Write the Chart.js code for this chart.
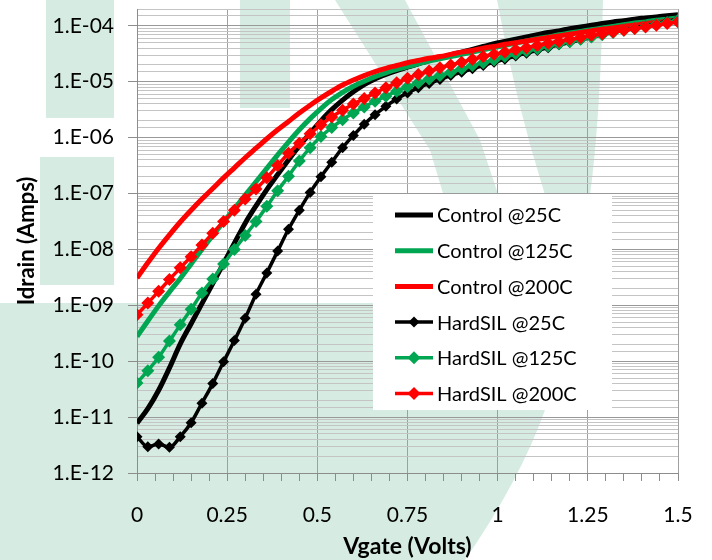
<!DOCTYPE html>
<html>
<head>
<meta charset="utf-8">
<script src="https://cdn.jsdelivr.net/npm/chart.js@4.4.0/dist/chart.umd.min.js"></script>
<style>
  html, body { margin: 0; padding: 0; background: #fff; }
  #wrap { width: 712px; height: 560px; position: relative; }
</style>
</head>
<body>
<div id="wrap"><canvas id="ivChart"></canvas></div>
<script>
// gate voltage sweep (Volts)
const vgate = [0, 0.03, 0.06, 0.09, 0.12, 0.15, 0.18, 0.21, 0.24, 0.27,
  0.30, 0.33, 0.36, 0.39, 0.42, 0.45, 0.48, 0.51, 0.54, 0.57,
  0.60, 0.63, 0.66, 0.69, 0.72, 0.75, 0.78, 0.81, 0.84, 0.87,
  0.90, 0.93, 0.96, 0.99, 1.02, 1.05, 1.08, 1.11, 1.14, 1.17,
  1.20, 1.23, 1.26, 1.29, 1.32, 1.35, 1.38, 1.41, 1.44, 1.47, 1.50];

// drain current, stored as log10(Amps)
const control25 = [-11.11, -10.85, -10.52, -10.12, -9.69, -9.33, -8.97, -8.61, -8.25, -7.89,
  -7.53, -7.22, -6.93, -6.66, -6.40, -6.15, -5.92, -5.70, -5.50, -5.33,
  -5.18, -5.05, -4.95, -4.87, -4.80, -4.74, -4.68, -4.62, -4.57, -4.52,
  -4.47, -4.42, -4.37, -4.32, -4.28, -4.24, -4.20, -4.16, -4.12, -4.09,
  -4.05, -4.02, -3.99, -3.96, -3.93, -3.91, -3.88, -3.86, -3.84, -3.82, -3.80];
const control125 = [-9.56, -9.28, -9.01, -8.76, -8.52, -8.26, -8.00, -7.75, -7.51, -7.27,
  -7.03, -6.79, -6.55, -6.31, -6.08, -5.86, -5.66, -5.48, -5.32, -5.19,
  -5.08, -4.99, -4.91, -4.84, -4.78, -4.73, -4.68, -4.63, -4.59, -4.55,
  -4.51, -4.47, -4.43, -4.39, -4.35, -4.31, -4.27, -4.23, -4.20, -4.16,
  -4.13, -4.10, -4.07, -4.04, -4.01, -3.98, -3.95, -3.93, -3.90, -3.88, -3.86];
const control200 = [-8.51, -8.24, -7.98, -7.74, -7.51, -7.30, -7.10, -6.91, -6.72, -6.54,
  -6.36, -6.19, -6.02, -5.86, -5.71, -5.56, -5.42, -5.29, -5.17, -5.06,
  -4.97, -4.89, -4.82, -4.76, -4.71, -4.66, -4.62, -4.58, -4.55, -4.51,
  -4.47, -4.44, -4.40, -4.37, -4.33, -4.30, -4.27, -4.24, -4.21, -4.18,
  -4.15, -4.12, -4.09, -4.06, -4.04, -4.01, -3.99, -3.96, -3.94, -3.92, -3.90];
const hardsil25 = [-11.35, -11.53, -11.48, -11.54, -11.35, -11.10, -10.75, -10.40, -10.01, -9.63,
  -9.23, -8.80, -8.42, -8.03, -7.64, -7.30, -6.98, -6.70, -6.44, -6.18,
  -5.96, -5.76, -5.59, -5.44, -5.31, -5.20, -5.11, -5.03, -4.96, -4.89,
  -4.83, -4.77, -4.71, -4.65, -4.60, -4.54, -4.49, -4.44, -4.39, -4.34,
  -4.30, -4.25, -4.21, -4.16, -4.12, -4.08, -4.04, -4.00, -3.96, -3.92, -3.88];
const hardsil125 = [-10.39, -10.17, -9.93, -9.64, -9.35, -9.07, -8.78, -8.53, -8.26, -8.00,
  -7.75, -7.50, -7.23, -6.95, -6.69, -6.42, -6.18, -5.98, -5.82, -5.68,
  -5.56, -5.45, -5.35, -5.26, -5.17, -5.09, -5.02, -4.95, -4.89, -4.83,
  -4.77, -4.71, -4.66, -4.61, -4.55, -4.50, -4.45, -4.41, -4.36, -4.32,
  -4.28, -4.24, -4.20, -4.16, -4.12, -4.08, -4.05, -4.01, -3.97, -3.94, -3.90];
const hardsil200 = [-9.17, -8.96, -8.75, -8.54, -8.33, -8.13, -7.92, -7.71, -7.50, -7.30,
  -7.10, -6.92, -6.72, -6.50, -6.28, -6.10, -5.93, -5.77, -5.63, -5.51,
  -5.40, -5.30, -5.20, -5.11, -5.02, -4.94, -4.87, -4.81, -4.75, -4.70,
  -4.65, -4.60, -4.55, -4.51, -4.47, -4.43, -4.39, -4.35, -4.31, -4.28,
  -4.24, -4.21, -4.17, -4.14, -4.11, -4.08, -4.05, -4.02, -3.99, -3.96, -3.93];

const seriesLabels = ['Control @25C', 'Control @125C', 'Control @200C',
  'HardSIL @25C', 'HardSIL @125C', 'HardSIL @200C'];
const seriesColors = ['#000000', '#00a651', '#ff0000', '#000000', '#00a651', '#ff0000'];
const xTickLabels = ['0', '0.25', '0.5', '0.75', '1', '1.25', '1.5'];
const yTickLabels = ['1.E-12', '1.E-11', '1.E-10', '1.E-09', '1.E-08',
  '1.E-07', '1.E-06', '1.E-05', '1.E-04'];

const FONT = 'Lato, "Open Sans", sans-serif';

function toPoints(logs) {
  return vgate.map((v, i) => ({ x: v, y: Math.pow(10, logs[i]) }));
}

const allSeries = [control25, control125, control200, hardsil25, hardsil125, hardsil200];
const datasets = allSeries.map((s, i) => {
  const hard = i >= 3;
  const radius = hard ? (i === 3 ? 5.5 : 6.5) : 0;
  return {
    label: seriesLabels[i],
    data: toPoints(s),
    borderColor: seriesColors[i],
    backgroundColor: seriesColors[i],
    borderWidth: hard ? 3.5 : 5,
    pointStyle: 'rectRot',
    pointRadius: radius,
    pointHoverRadius: radius,
    pointBorderWidth: 0,
    cubicInterpolationMode: 'monotone',
    order: 6 - i // later series drawn on top, like the original
  };
});

function isDecade(v) {
  const e = Math.log10(v);
  return Math.abs(e - Math.round(e)) < 1e-6;
}
function isQuarter(v) {
  return Math.abs(v / 0.25 - Math.round(v / 0.25)) < 1e-6;
}

// light green watermark shapes behind the plot
const watermark = {
  id: 'watermark',
  beforeDraw(chart) {
    const ctx = chart.ctx;
    ctx.save();
    ctx.fillStyle = 'rgb(214, 236, 226)';
    // lower left area
    ctx.beginPath();
    ctx.moveTo(0, 303);
    ctx.lineTo(540, 303);
    ctx.lineTo(545, 410);
    ctx.quadraticCurveTo(520, 480, 465, 560);
    ctx.lineTo(0, 560);
    ctx.closePath();
    ctx.fill();
    // left blocks
    ctx.fillRect(46, 0, 68, 118);
    ctx.fillRect(40, 157, 74, 128);
    ctx.fillRect(240, 0, 50, 108);
    // diagonal bands
    ctx.beginPath();
    ctx.moveTo(335, 0);
    ctx.lineTo(405, 0);
    ctx.lineTo(480, 140);
    ctx.lineTo(530, 290);
    ctx.lineTo(472, 290);
    ctx.lineTo(430, 150);
    ctx.closePath();
    ctx.fill();
    ctx.beginPath();
    ctx.moveTo(497, 0);
    ctx.lineTo(603, 0);
    ctx.quadraticCurveTo(600, 120, 590, 195);
    ctx.lineTo(545, 195);
    ctx.quadraticCurveTo(515, 100, 497, 0);
    ctx.closePath();
    ctx.fill();
    ctx.restore();
  }
};

// legend box inside the plot area
const boxLegend = {
  id: 'boxLegend',
  afterDatasetsDraw(chart) {
    const ctx = chart.ctx;
    ctx.save();
    ctx.fillStyle = '#ffffff';
    ctx.fillRect(373, 194, 239, 216);
    chart.data.datasets.forEach((ds, i) => {
      const y = 215 + i * 35.7;
      ctx.strokeStyle = ds.borderColor;
      ctx.lineWidth = ds.borderWidth;
      ctx.beginPath();
      ctx.moveTo(395, y);
      ctx.lineTo(433, y);
      ctx.stroke();
      if (ds.pointRadius > 0) {
        const r = ds.pointRadius;
        ctx.fillStyle = ds.borderColor;
        ctx.beginPath();
        ctx.moveTo(414, y - r);
        ctx.lineTo(414 + r, y);
        ctx.lineTo(414, y + r);
        ctx.lineTo(414 - r, y);
        ctx.closePath();
        ctx.fill();
      }
      ctx.fillStyle = '#000';
      ctx.font = '20px ' + FONT;
      ctx.textBaseline = 'middle';
      ctx.fillText(ds.label, 437, y + 1);
    });
    ctx.restore();
  }
};

new Chart(document.getElementById('ivChart'), {
  type: 'line',
  data: { datasets: datasets },
  plugins: [watermark, boxLegend],
  options: {
    responsive: true,
    maintainAspectRatio: false,
    animation: false,
    layout: { padding: { top: 9, right: 34, bottom: 0, left: 0 } },
    plugins: {
      legend: { display: false },
      tooltip: { enabled: false }
    },
    scales: {
      x: {
        type: 'linear',
        min: 0,
        max: 1.5,
        afterFit: s => { s.height = 87; s.paddingLeft = 0; s.paddingRight = 0; },
        ticks: {
          stepSize: 0.05,
          autoSkip: false,
          maxRotation: 0,
          padding: 22,
          color: '#000',
          font: { family: FONT, size: 21 },
          callback: v => isQuarter(v) ? xTickLabels[Math.round(v / 0.25)] : ''
        },
        grid: {
          color: c => (c.tick && isQuarter(c.tick.value)) ? '#a0a0a0' : 'rgba(0,0,0,0)',
          tickColor: '#8c8c8c',
          tickLength: 8,
          lineWidth: 1
        },
        border: { color: '#8c8c8c', width: 1 },
        title: {
          display: true,
          text: 'Vgate (Volts)',
          color: '#000',
          font: { family: FONT, size: 23, weight: 'bold' },
          padding: { top: 0, bottom: 0 }
        }
      },
      y: {
        type: 'logarithmic',
        min: 1e-12,
        max: 2e-4,
        afterFit: s => { s.width = 137; s.paddingTop = 0; s.paddingBottom = 0; },
        ticks: {
          autoSkip: false,
          padding: 14,
          color: '#000',
          font: { family: FONT, size: 21 },
          callback: v => isDecade(v) ? yTickLabels[Math.round(Math.log10(v)) + 12] : ''
        },
        grid: {
          color: c => (c.tick && isDecade(c.tick.value)) ? '#999999' : '#c4c4c4',
          tickColor: c => (c.tick && isDecade(c.tick.value)) ? '#8c8c8c' : 'rgba(0,0,0,0)',
          tickLength: 9,
          lineWidth: 1
        },
        border: { color: '#8c8c8c', width: 1 },
        title: {
          display: true,
          text: 'Idrain (Amps)',
          color: '#000',
          font: { family: FONT, size: 22, weight: 'bold' },
          padding: { top: 14, bottom: 0 }
        }
      }
    }
  }
});
</script>
</body>
</html>
